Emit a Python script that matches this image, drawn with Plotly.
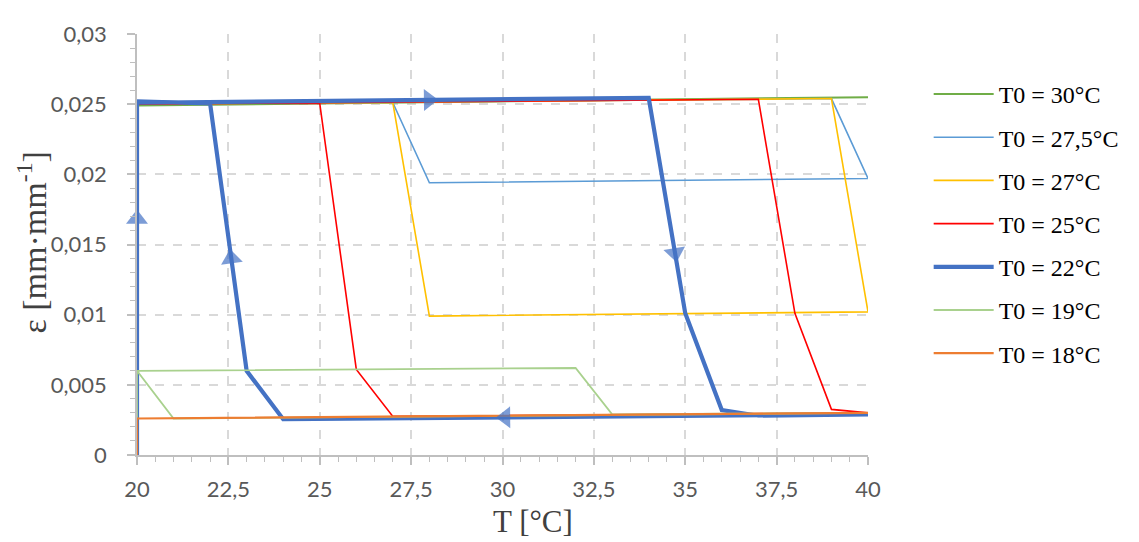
import plotly.graph_objects as go

# ---------------- data ----------------
x_30 = [20, 20, 40]
y_30 = [0, 0.0249, 0.0255]

x_275 = [20, 20, 39, 40, 28, 27, 20]
y_275 = [0, 0.0250, 0.0254, 0.0197, 0.0194, 0.0251, 0.0251]

x_27 = [20, 20, 39, 40, 28, 27, 20]
y_27 = [0, 0.0250, 0.0254, 0.0102, 0.0099, 0.0251, 0.0251]

x_25 = [20, 20, 37, 38, 39, 40, 27, 26, 25, 20]
y_25 = [0, 0.0250, 0.02535, 0.0101, 0.00325, 0.0030, 0.00275, 0.0061, 0.02505, 0.0251]

x_22 = [20, 20, 34, 35, 36, 37, 40, 24, 23, 22, 20]
y_22 = [0, 0.0251, 0.02545, 0.0101, 0.0032, 0.0028, 0.0029, 0.00255, 0.0060, 0.02505, 0.0252]

x_19 = [20, 20, 32, 33, 40, 21, 20]
y_19 = [0, 0.0060, 0.0062, 0.0029, 0.0030, 0.0026, 0.0060]

x_18 = [20, 20, 40]
y_18 = [0, 0.0026, 0.0030]

series_names = ["T0 = 30°C", "T0 = 27,5°C", "T0 = 27°C", "T0 = 25°C",
                "T0 = 22°C", "T0 = 19°C", "T0 = 18°C"]

# direction arrows on the T0 = 22°C cycle: (segment index, fraction along segment)
arrow_segments = [0, 1, 2, 6, 8]
arrow_fractions = [0.67, 0.57, 0.72, 0.62, 0.42]

x_ticks = [20, 22.5, 25, 27.5, 30, 32.5, 35, 37.5, 40]
y_ticks = [0, 0.005, 0.01, 0.015, 0.02, 0.025, 0.03]

# ---------------- styles ----------------
colors = ["#70AD47", "#5B9BD5", "#FFC000", "#FF0000", "#4472C4", "#A9D18E", "#ED7D31"]
widths = [2, 1.6, 1.6, 1.6, 4.2, 1.8, 2.2]

xs = [x_30, x_275, x_27, x_25, x_22, x_19, x_18]
ys = [y_30, y_275, y_27, y_25, y_22, y_19, y_18]

fig = go.Figure()
for i, (name, xx, yy) in enumerate(zip(series_names, xs, ys)):
    fig.add_trace(go.Scatter(
        x=xx, y=yy, mode="lines", name=name,
        legendgroup=f"g{i}",
        line=dict(color=colors[i], width=widths[i]),
    ))

# arrows computed from the T0 = 22°C data
ax, ay, asz = [], [], []
for seg, f in zip(arrow_segments, arrow_fractions):
    x0, y0 = x_22[seg], y_22[seg]
    x1, y1 = x_22[seg + 1], y_22[seg + 1]
    ax += [x0, x0 + f * (x1 - x0)]
    ay += [y0, y0 + f * (y1 - y0)]
    asz += [0, 19]
fig.add_trace(go.Scatter(
    x=ax, y=ay, mode="markers", showlegend=False, hoverinfo="skip",
    cliponaxis=False,
    marker=dict(symbol="triangle-up", size=asz, color="#4472C4",
                angleref="previous", line=dict(width=0)),
))

axis_common = dict(
    showline=True, linecolor="#BFBFBF", linewidth=1.6,
    showgrid=True, gridcolor="#D9D9D9", gridwidth=1.8, griddash="dash",
    zeroline=False,
    ticks="outside", ticklen=8, tickwidth=1.6, tickcolor="#BFBFBF",
    tickfont=dict(family="Lato", size=22, color="#595959"),
)

fig.update_xaxes(
    range=[20, 40], tickmode="array", tickvals=x_ticks,
    minor=dict(dtick=0.5, ticks="outside", ticklen=5, tickwidth=1.4,
               tickcolor="#BFBFBF", showgrid=False),
    ticklabelstandoff=6,
    **axis_common,
)
fig.update_yaxes(
    range=[0, 0.03], tickmode="array", tickvals=y_ticks,
    minor=dict(dtick=0.001, ticks="outside", ticklen=5, tickwidth=1.4,
               tickcolor="#BFBFBF", showgrid=False),
    ticklabelstandoff=16,
    **axis_common,
)

fig.add_annotation(
    text="T [°C]", xref="paper", yref="paper", x=0.542, y=-0.2035,
    xanchor="center", yanchor="bottom", showarrow=False,
    font=dict(family="Liberation Serif", size=31, color="#404040"),
)
fig.add_annotation(
    text="ε [mm·mm<sup>-1</sup>]", xref="paper", yref="paper",
    x=-0.1435, y=0.505, xanchor="center", yanchor="middle", textangle=-90,
    showarrow=False,
    font=dict(family="Liberation Serif", size=34, color="#404040"),
)

# the page body keeps an 8 px default margin: the figure is sized to fit the window
fig.update_layout(
    width=1131, height=534,
    margin=dict(l=129, r=271, t=16, b=87),
    paper_bgcolor="white", plot_bgcolor="white",
    separators=", ",
    showlegend=True,
    legend=dict(
        x=1.083, xanchor="left", y=0.91, yanchor="top",
        font=dict(family="Liberation Serif", size=24, color="#000000"),
        tracegroupgap=9, itemwidth=60,
        bgcolor="rgba(0,0,0,0)",
    ),
)

fig.write_html("out.html")
